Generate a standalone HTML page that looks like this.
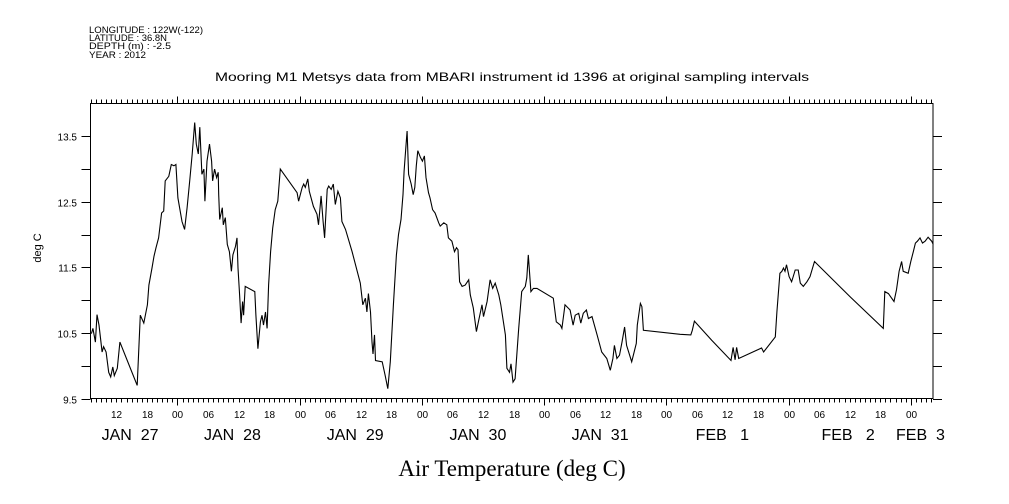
<!DOCTYPE html>
<html><head><meta charset="utf-8"><style>
html,body{margin:0;padding:0;background:#fff;}
svg{display:block;}
text{font-family:"Liberation Sans",sans-serif;fill:#000;}
</style></head><body>
<svg id="chart" width="1009" height="504" viewBox="0 0 1009 504" xmlns="http://www.w3.org/2000/svg">
<g font-size="9.5">
<text x="89" y="33" textLength="114" lengthAdjust="spacingAndGlyphs">LONGITUDE : 122W(-122)</text>
<text x="89" y="41" textLength="78" lengthAdjust="spacingAndGlyphs">LATITUDE : 36.8N</text>
<text x="89" y="49" textLength="82" lengthAdjust="spacingAndGlyphs">DEPTH (m) : -2.5</text>
<text x="89" y="58" textLength="57" lengthAdjust="spacingAndGlyphs">YEAR : 2012</text>
</g>
<text x="215" y="81" font-size="12" textLength="594" lengthAdjust="spacingAndGlyphs">Mooring M1 Metsys data from MBARI instrument id 1396 at original sampling intervals</text>
<text transform="translate(41,248) rotate(-90)" text-anchor="middle" font-size="11">deg C</text>
<text x="512" y="476" text-anchor="middle" font-size="23" style="font-family:'Liberation Serif',serif">Air Temperature (deg C)</text>
<g id="axes"></g>
<g id="plot"></g>
</svg>
<script>
const hours = [7.1,7.4,7.9,8.2,8.6,9.2,9.5,10.0,10.5,10.9,11.3,11.6,12.2,12.7,16.1,16.7,17.4,18.1,18.4,19.0,19.4,19.8,20.3,20.9,21.3,21.6,22.3,22.8,23.3,23.7,24.1,24.9,25.4,25.9,26.4,26.9,27.4,27.7,28.1,28.4,28.8,29.2,29.4,29.8,30.3,30.7,30.9,31.3,31.7,32.0,32.1,32.3,32.8,33.0,33.4,33.8,34.2,34.6,34.9,35.4,35.7,35.9,36.2,36.5,36.8,37.0,37.3,39.2,39.4,39.8,40.3,40.6,40.9,41.3,41.6,41.9,42.3,42.7,43.2,43.7,44.2,47.5,47.8,48.5,48.8,49.1,49.6,49.9,50.7,51.4,51.7,52.2,52.6,52.9,53.4,53.7,54.2,54.6,55.0,55.5,56.0,56.3,57.0,58.3,59.9,60.4,60.9,61.2,61.5,61.9,62.2,62.4,62.7,62.9,64.2,64.8,65.3,65.8,66.4,67.0,67.4,67.9,68.3,68.5,68.9,69.1,69.4,69.9,70.3,70.6,70.9,71.2,71.7,72.1,72.5,72.8,73.3,73.6,74.1,74.6,75.3,75.6,76.3,76.9,77.2,77.9,78.4,78.8,79.1,79.4,79.9,80.5,81.2,81.5,82.1,82.7,83.1,83.8,84.1,84.8,85.4,85.9,86.4,87.1,87.5,88.4,88.7,89.2,89.5,89.9,90.3,91.0,91.6,92.3,92.6,92.9,93.4,93.9,94.6,97.8,98.4,99.2,99.5,100.1,101.1,101.7,102.1,102.8,103.2,103.7,104.3,104.7,105.4,106.4,107.3,108.3,109.0,109.5,109.8,110.3,110.8,111.3,111.8,112.2,113.2,114.1,114.3,114.9,115.2,115.5,122.7,124.8,125.1,125.5,128.9,132.7,133.1,133.5,133.8,134.2,138.7,139.1,141.4,141.7,142.3,142.7,143.0,143.3,143.6,144.1,144.6,144.9,145.3,145.9,146.3,146.9,147.6,148.2,149.1,156.1,162.6,162.9,163.6,164.7,165.2,165.7,166.2,166.5,167.5,168.0,168.5,168.9,169.3,169.8,170.3,170.8,171.4,172.1,172.4];
const temps = [10.49,10.57,10.36,10.78,10.62,10.21,10.29,10.21,9.90,9.83,9.98,9.85,9.96,10.36,9.70,10.77,10.65,10.93,11.23,11.49,11.67,11.80,11.95,12.33,12.36,12.82,12.89,13.07,13.05,13.07,12.56,12.20,12.08,12.41,12.82,13.23,13.71,13.38,13.23,13.64,12.92,13.00,12.51,13.12,13.38,13.12,12.82,13.00,12.87,12.95,12.61,12.23,12.41,12.15,12.26,11.85,11.74,11.44,11.69,11.82,11.95,11.49,11.08,10.65,10.98,10.77,11.21,11.13,10.77,10.26,10.67,10.77,10.62,10.82,10.57,11.23,11.74,12.10,12.38,12.51,13.00,12.64,12.51,12.72,12.77,12.72,12.85,12.66,12.43,12.31,12.15,12.59,12.20,11.95,12.69,12.74,12.69,12.77,12.46,12.66,12.56,12.20,12.08,11.74,11.26,10.93,11.03,10.82,11.10,10.82,10.36,10.18,10.47,10.08,10.06,9.85,9.65,10.06,10.93,11.69,12.00,12.23,12.61,12.97,13.38,13.58,12.92,12.77,12.61,12.72,13.05,13.28,13.18,13.12,13.20,12.87,12.64,12.56,12.38,12.33,12.18,12.13,12.18,12.15,11.95,11.90,11.74,11.80,11.77,11.28,11.21,11.23,11.31,11.08,10.88,10.52,10.67,10.93,10.75,10.98,11.31,11.18,11.26,11.08,10.93,10.47,9.96,9.90,10.03,9.75,9.80,10.57,11.13,11.21,11.34,11.69,11.13,11.18,11.18,11.03,10.67,10.62,10.57,10.93,10.85,10.62,10.77,10.80,10.65,10.80,10.85,10.72,10.75,10.47,10.21,10.11,9.93,10.11,10.31,10.11,10.16,10.36,10.59,10.31,10.06,10.34,10.62,10.95,10.90,10.54,10.48,10.47,10.54,10.68,10.39,10.08,10.28,10.09,10.28,10.11,10.27,10.21,10.44,10.82,11.41,11.44,11.49,11.44,11.54,11.36,11.28,11.36,11.46,11.46,11.26,11.21,11.28,11.36,11.59,11.05,10.57,11.13,11.10,10.98,11.16,11.44,11.59,11.44,11.41,11.59,11.74,11.87,11.90,11.95,11.87,11.90,11.96,11.90,11.85];
const yTickValues = [9.5,10.0,10.5,11.0,11.5,12.0,12.5,13.0,13.5];
const yTickLabels = ["9.5","","10.5","","11.5","","12.5","","13.5"];
const dayLabels = ["JAN  27","JAN  28","JAN  29","JAN  30","JAN  31","FEB   1","FEB   2","FEB  3"];
const dayLabelHours = [14.7,34.8,58.9,83,107,131,155.7,169.9];

const L=90.5, R=933, T=103.5, B=398.5;
const X0=6.93, X1=172.36, Y0=9.5, Y1=14.0;
const sx = h => L + (h - X0) / (X1 - X0) * (R - L);
const sy = v => B - (v - Y0) / (Y1 - Y0) * (B - T);
const NS='http://www.w3.org/2000/svg';
const axes=document.getElementById('axes'), plot=document.getElementById('plot');
function mk(tag, attrs, parent){const e=document.createElementNS(NS,tag);for(const k in attrs)e.setAttribute(k,attrs[k]);parent.appendChild(e);return e;}

const frame = mk('rect',{x:L,y:T,width:R-L,height:B-T,fill:'none',stroke:'#000','stroke-width':1},axes);



let d='';
for(let h=Math.ceil(X0); h<=X1; h++){
  const x=Math.round(sx(h))+0.5;
  const major = h%24===0;
  const len = major?7:4;
  d+=`M${x} ${T}V${T-len}M${x} ${B}V${B+len}`;
  if(h%6===0){
    const t=mk('text',{x:x,y:418,'text-anchor':'middle','font-size':10},axes);
    t.textContent=String(h%24).padStart(2,'0');
    
    
  }
}
yTickValues.forEach((v,i)=>{
  const y=Math.round(sy(v))+0.5;
  d+=`M${L} ${y}H${L-9}M${R} ${y}H${R+9}`;
  if(yTickLabels[i]){
    const t=mk('text',{x:77,y:y+4,'text-anchor':'end','font-size':10},axes);
    t.textContent=yTickLabels[i];
    
    
  }
});
const ticks=mk('path',{d:d,stroke:'#000','stroke-width':1,fill:'none'},axes);



dayLabels.forEach((lab,i)=>{
  const t=mk('text',{x:sx(dayLabelHours[i]),y:440,'text-anchor':'middle','font-size':16},axes);
  t.setAttribute('style','white-space:pre');
  t.textContent=lab;
  
  
});

const pts=hours.map((h,i)=>sx(h).toFixed(1)+','+sy(temps[i]).toFixed(1)).join(' ');
const line=mk('polyline',{points:pts,fill:'none',stroke:'#000','stroke-width':1.1,'stroke-linejoin':'miter'},plot);


</script>
</body></html>
